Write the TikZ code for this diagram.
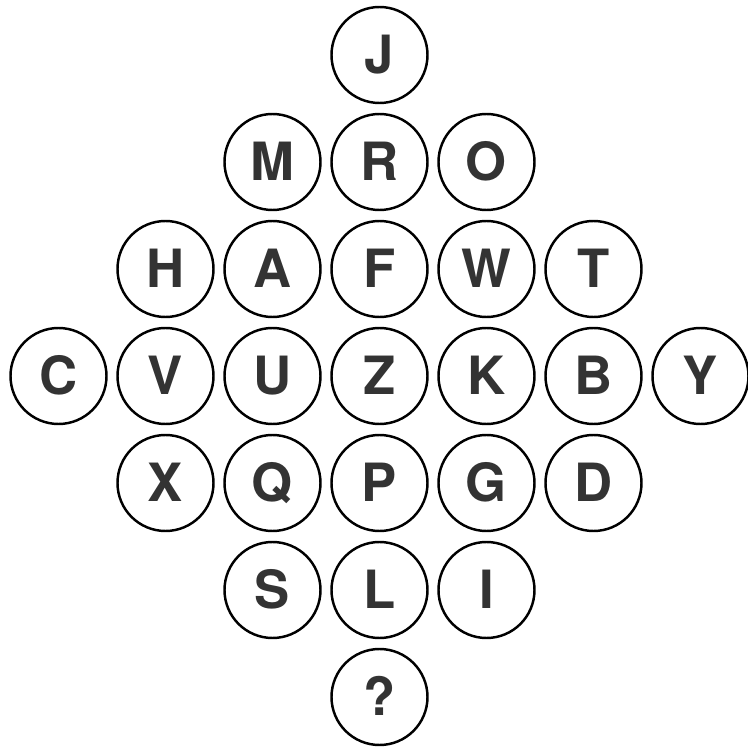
\documentclass[tikz,border=0pt]{standalone}
\usepackage{fontspec}
\setsansfont{TeX Gyre Heros}
\usepackage{tikz}
\usetikzlibrary{positioning}
\definecolor{ink}{HTML}{333333}

\begin{document}
\begin{tikzpicture}[
    node distance=2.14cm, on grid,
    ball/.style={draw, circle, line width=1.4pt, minimum size=1.92cm, inner sep=0pt,
        text height=21.5pt, text depth=0pt, text=ink,
        font=\fontsize{30}{30}\selectfont\sffamily\bfseries}
]
    \useasboundingbox (-7.59,-7.52) rectangle (7.35,7.52);

    \node (Z) [ball] {Z};
    \node (U) [ball, left=of Z] {U};
    \node (V) [ball, left=of U] {V};
    \node (C) [ball, left=of V] {C};
    \node (K) [ball, right=of Z] {K};
    \node (B) [ball, right=of K] {B};
    \node (Y) [ball, right=of B] {Y};

    \node (F) [ball, above=of Z] {F};
    \node (A) [ball, left=of F] {A};
    \node (H) [ball, left=of A] {H};
    \node (W) [ball, right=of F] {W};
    \node (T) [ball, right=of W] {T};

    \node (R) [ball, above=of F] {R};
    \node (M) [ball, left=of R] {M};
    \node (O) [ball, right=of R] {O};

    \node (J) [ball, above=of R] {J};

    \node (P) [ball, below=of Z] {P};
    \node (Q) [ball, left=of P] {Q};
    \node (X) [ball, left=of Q] {X};
    \node (G) [ball, right=of P] {G};
    \node (D) [ball, right=of G] {D};

    \node (L) [ball, below=of P] {L};
    \node (S) [ball, left=of L] {S};
    \node (I) [ball, right=of L] {I};

    \node (ask) [ball, below=of L] {?};
\end{tikzpicture}
\end{document}
